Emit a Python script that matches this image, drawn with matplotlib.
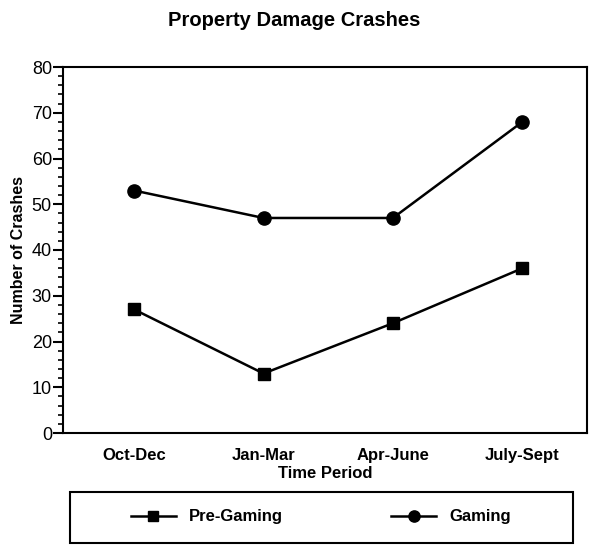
import matplotlib.pyplot as plt
from matplotlib.patches import Rectangle
from matplotlib.ticker import MultipleLocator

periods = ["Oct-Dec", "Jan-Mar", "Apr-June", "July-Sept"]
pre_gaming = [27, 13, 24, 36]
gaming = [53, 47, 47, 68]

plt.rcParams["font.family"] = ["Liberation Sans", "DejaVu Sans"]

W, H = 589, 546
fig = plt.figure(figsize=(W / 100, H / 100), dpi=100)
ax = fig.add_axes([63 / W, 1 - 433 / H, 524 / W, 366 / H])

x = range(len(periods))
ax.plot(x, pre_gaming, color="black", lw=1.8, marker="s", ms=8.5, label="Pre-Gaming")
ax.plot(x, gaming, color="black", lw=1.8, marker="o", ms=9.5, label="Gaming")

ax.set_xlim(-0.55, 3.5)
ax.set_ylim(0, 80)
ax.yaxis.set_major_locator(MultipleLocator(10))
ax.yaxis.set_minor_locator(MultipleLocator(2))
ax.set_xticks(list(x))
ax.set_xticklabels(periods, fontweight="bold", fontsize=12)
ax.tick_params(axis="x", length=0, pad=11)
ax.tick_params(axis="y", which="major", length=7, width=1.5, labelsize=13, pad=1)
ax.tick_params(axis="y", which="minor", length=3.5, width=1.2)
for s in ax.spines.values():
    s.set_linewidth(1.5)

ax.set_ylabel("Number of Crashes", fontweight="bold", fontsize=11.5, labelpad=4)
ax.set_xlabel("Time Period", fontweight="bold", fontsize=12, labelpad=2)
fig.suptitle("Property Damage Crashes", fontweight="bold", fontsize=14.5, y=0.98)

# legend box drawn separately so it can span the width of the plot
fig.patches.append(Rectangle((70 / W, 1 - 543 / H), 503 / W, 51 / H,
                             transform=fig.transFigure, fill=False,
                             edgecolor="black", linewidth=1.5))
leg = fig.legend(loc="center", bbox_to_anchor=(321 / W, 1 - 517 / H), ncol=2,
                 frameon=False, prop={"weight": "bold", "size": 12},
                 handlelength=2.7, handletextpad=0.8, columnspacing=6.5,
                 markerscale=0.85)

plt.savefig("out.png", dpi=100)
